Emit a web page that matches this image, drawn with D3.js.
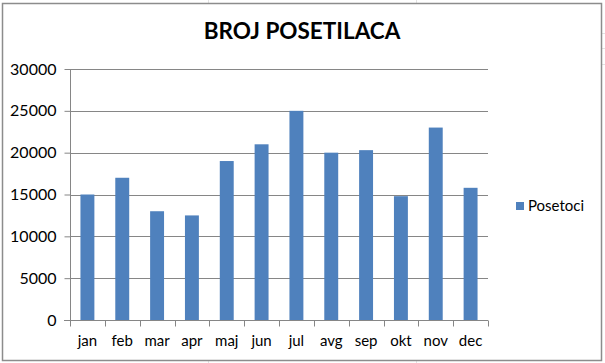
<!DOCTYPE html>
<html><head><meta charset="utf-8">
<script src="https://cdn.jsdelivr.net/npm/d3@7"></script>
<style>html,body{margin:0;padding:0;background:#fff;}svg{display:block;}</style>
</head><body>
<script>
const categories = ["jan","feb","mar","apr","maj","jun","jul","avg","sep","okt","nov","dec"];
const values = [15000,17000,13000,12500,19000,21000,25000,20000,20300,14800,23000,15800];
const yTicks = [0,5000,10000,15000,20000,25000,30000];
const seriesName = "Posetoci";
const title = "BROJ POSETILACA";

const W = 605, H = 363;
const svg = d3.select("body").append("svg").attr("width", W).attr("height", H);
const font = "Lato, 'Open Sans', sans-serif";

// faint spreadsheet cell lines outside chart
const bg = svg.append("g").attr("stroke", "#e3e3e3").attr("stroke-width", 1);
[208, 416, 624].forEach(x => bg.append("line").attr("x1", x+0.5).attr("x2", x+0.5).attr("y1", 0).attr("y2", H));
[33, 48, 64].forEach(y => bg.append("line").attr("x1", 598).attr("x2", W).attr("y1", y*1+0.5).attr("y2", y*1+0.5));

svg.append("rect").attr("x", 2.5).attr("y", 3.5).attr("width", 599).attr("height", 357)
  .attr("fill", "#fff").attr("stroke", "#8c8c8c").attr("stroke-width", 1.5);

const x = d3.scaleBand().domain(categories).range([70, 488]).paddingInner(0.6).paddingOuter(0.3);
const xTick = d3.scaleBand().domain(categories).range([70, 488]);
const y = d3.scaleLinear().domain([0, 30000]).range([320, 69]);

// gridlines
svg.append("g").selectAll("line").data(yTicks.filter(d => d > 0)).join("line")
  .attr("x1", 70).attr("x2", 488).attr("y1", d => Math.round(y(d)) + 0.5).attr("y2", d => Math.round(y(d)) + 0.5)
  .attr("stroke", "#868686").attr("stroke-width", 1);

// bars
svg.append("g").selectAll("rect").data(values).join("rect")
  .attr("x", (d, i) => x(categories[i]))
  .attr("width", x.bandwidth())
  .attr("y", d => y(d))
  .attr("height", d => y(0) - y(d))
  .attr("fill", "#4f81bd");

// y axis
const yAxis = d3.axisLeft(y).tickValues(yTicks).tickSize(6).tickPadding(8).tickFormat(d3.format("d"));
const gy = svg.append("g").attr("transform", "translate(70.5,0)").call(yAxis);
gy.select(".domain").attr("stroke", "#868686").attr("d", "M0,69V320");
gy.selectAll(".tick line").attr("stroke", "#868686");
gy.selectAll("text").attr("font-family", font).attr("font-size", 16).attr("fill", "#000");

// x axis
const gx = svg.append("g").attr("transform", "translate(0,320.5)");
gx.append("line").attr("x1", 64).attr("x2", 488).attr("stroke", "#868686");
const tickXs = categories.map(c => xTick(c)).concat([488]);
gx.selectAll("line.t").data(tickXs).join("line").attr("class", "t")
  .attr("x1", d => Math.round(d) + 0.5).attr("x2", d => Math.round(d) + 0.5).attr("y1", 0).attr("y2", 6)
  .attr("stroke", "#868686");
gx.selectAll("text").data(categories).join("text")
  .attr("x", d => xTick(d) + xTick.bandwidth() / 2).attr("y", 25)
  .attr("text-anchor", "middle").attr("font-family", font).attr("font-size", 15).attr("fill", "#000")
  .text(d => d);

// title
svg.append("text").attr("x", 302).attr("y", 38.5).attr("text-anchor", "middle")
  .attr("font-family", font).attr("font-weight", "bold").attr("font-size", 22.5).attr("fill", "#000")
  .text(title);

// legend
svg.append("rect").attr("x", 516).attr("y", 202).attr("width", 8).attr("height", 8).attr("fill", "#4f81bd");
svg.append("text").attr("x", 528).attr("y", 210.5).attr("font-family", font).attr("font-size", 15).attr("fill", "#000").text(seriesName);
</script>
</body></html>
